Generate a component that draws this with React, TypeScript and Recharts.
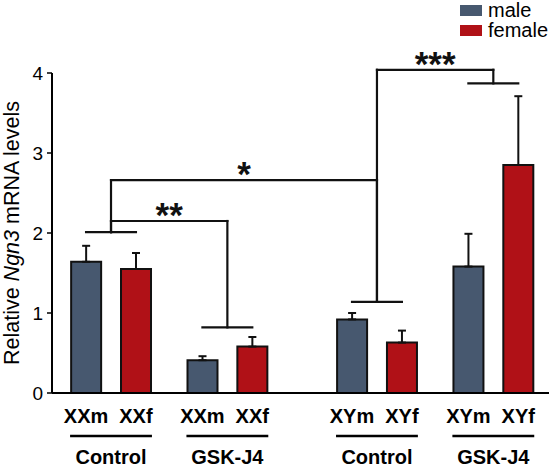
import {
  Bar,
  BarChart,
  Cell,
  ErrorBar,
  Legend,
  ReferenceLine,
  XAxis,
  YAxis,
} from "recharts";

const FONT = "'Liberation Sans', Arial, sans-serif";
const MALE = "#47586f";
const FEMALE = "#b01117";

// bar categories, left to right
const categories = ["XXm", "XXf", "XXm", "XXf", "XYm", "XYf", "XYm", "XYf"];
const sexes = ["male", "female", "male", "female", "male", "female", "male", "female"];
const groups = ["Control", "GSK-J4", "Control", "GSK-J4"];
const means = [1.64, 1.55, 0.41, 0.58, 0.92, 0.63, 1.58, 2.85];
const sems = [0.2, 0.2, 0.05, 0.12, 0.08, 0.15, 0.41, 0.86];
const yTicks = [0, 1, 2, 3, 4];

// spacing between neighbouring bars, in slot units
const slotGaps = [3, 4, 3, 6, 3, 4, 3];

// height of the short line joining each male/female pair
const pairTops = [2.01, 0.82, 1.14, 3.87];
// significance brackets between pairs
const comparisons = [
  { a: 0, b: 1, y: 2.15, stars: "**" },
  { a: 0, b: 2, y: 2.66, stars: "*" },
  { a: 2, b: 3, y: 4.04, stars: "***" },
];

const positions = slotGaps.reduce((acc, g) => [...acc, acc[acc.length - 1] + g], [0]);

const data = categories.map((c, i) => ({
  pos: positions[i],
  label: c,
  sex: sexes[i],
  mean: means[i],
  err: [0, sems[i]],
}));

const pairMid = (k: number) => (positions[2 * k] + positions[2 * k + 1]) / 2;

type Seg = [[number, number], [number, number]];
const segments: Seg[] = [];
pairTops.forEach((top, k) => {
  segments.push([[positions[2 * k], top], [positions[2 * k + 1], top]]);
});
comparisons.forEach((c) => {
  segments.push([[pairMid(c.a), pairTops[c.a]], [pairMid(c.a), c.y]]);
  segments.push([[pairMid(c.b), pairTops[c.b]], [pairMid(c.b), c.y]]);
});

const CHART_W = 550;
const CHART_H = 469;
const Y_AXIS_W = 52;
const X_DOMAIN: [number, number] = [-2.05, 27.85];
const PLOT_W = CHART_W - Y_AXIS_W - 1;
const UNIT_PX = PLOT_W / (X_DOMAIN[1] - X_DOMAIN[0]);
const BAR_SIZE = 30;

function BarTick(props: any) {
  const { x, y, index } = props;
  const label = categories[index];
  const out = [
    <text
      key="t"
      x={x}
      y={y + 22}
      textAnchor="middle"
      fontFamily={FONT}
      fontWeight="bold"
      fontSize={20}
      fill="#000"
    >
      {label}
    </text>,
  ];
  if (index % 2 === 0) {
    const span = (positions[index + 1] - positions[index]) * UNIT_PX;
    const half = BAR_SIZE / 2 + 1;
    out.push(
      <line
        key="l"
        x1={x - half}
        x2={x + span + half}
        y1={y + 35}
        y2={y + 35}
        stroke="#000"
        strokeWidth={2.5}
      />,
      <text
        key="g"
        x={x + span / 2}
        y={y + 63}
        textAnchor="middle"
        fontFamily={FONT}
        fontWeight="bold"
        fontSize={20}
        fill="#000"
      >
        {groups[index / 2]}
      </text>
    );
  }
  return <g>{out}</g>;
}

function YLabel(props: any) {
  const { viewBox } = props;
  const cx = 19;
  const cy = viewBox.y + viewBox.height / 2;
  return (
    <text
      x={cx}
      y={cy}
      transform={`rotate(-90 ${cx} ${cy})`}
      textAnchor="middle"
      fontFamily={FONT}
      fontSize={21.5}
      fill="#000"
    >
      {"Relative "}
      <tspan fontStyle="italic">Ngn3</tspan>
      {" mRNA levels"}
    </text>
  );
}

function starLabel(stars: string) {
  return (p: any) => {
    const vb = p.viewBox;
    return (
      <text
        x={vb.x + vb.width / 2}
        y={vb.y + 6}
        textAnchor="middle"
        fontFamily={FONT}
        fontWeight="bold"
        fontSize={35}
        fill="#111"
      >
        {stars}
      </text>
    );
  };
}

function LegendBox() {
  const items = [
    { name: "male", color: MALE },
    { name: "female", color: FEMALE },
  ];
  return (
    <div style={{ fontFamily: FONT, fontSize: 20, lineHeight: "20px" }}>
      {items.map((it) => (
        <div key={it.name} style={{ display: "flex", alignItems: "center", height: 20 }}>
          <span
            style={{
              display: "inline-block",
              width: 22,
              height: 11,
              background: it.color,
              marginRight: 6,
            }}
          />
          <span>{it.name}</span>
        </div>
      ))}
    </div>
  );
}

export default function App() {
  return (
    <div style={{ position: "absolute", left: 0, top: 0, width: CHART_W, height: CHART_H, background: "#fff" }}>
      <BarChart
        width={CHART_W}
        height={CHART_H}
        data={data}
        margin={{ top: 73, right: 1, bottom: 0, left: 0 }}
      >
        <XAxis
          dataKey="pos"
          type="number"
          domain={X_DOMAIN}
          ticks={positions}
          interval={0}
          allowDataOverflow
          height={76}
          tickLine={false}
          axisLine={{ stroke: "#000", strokeWidth: 2 }}
          tick={<BarTick />}
        />
        <YAxis
          domain={[0, 4]}
          ticks={yTicks}
          width={Y_AXIS_W}
          tickSize={5}
          tickMargin={4}
          axisLine={{ stroke: "#000", strokeWidth: 2 }}
          tickLine={{ stroke: "#000", strokeWidth: 1.5 }}
          tick={{ fill: "#000", fontSize: 19, fontFamily: FONT }}
          label={<YLabel />}
        />
        <Legend
          layout="horizontal"
          verticalAlign="middle"
          align="center"
          wrapperStyle={{ position: "absolute", top: 0, left: 460, width: 90 }}
          content={<LegendBox />}
        />
        <Bar
          dataKey="mean"
          barSize={BAR_SIZE}
          stroke="#111"
          strokeWidth={2}
          isAnimationActive={false}
        >
          {data.map((d, i) => (
            <Cell key={i} fill={d.sex === "male" ? MALE : FEMALE} />
          ))}
          <ErrorBar dataKey="err" width={4} stroke="#111" strokeWidth={2} direction="y" />
        </Bar>
        {segments.map((s, i) => (
          <ReferenceLine
            key={`s${i}`}
            segment={[{ x: s[0][0], y: s[0][1] }, { x: s[1][0], y: s[1][1] }]}
            stroke="#111"
            strokeWidth={2.2}
            strokeLinecap="square"
            ifOverflow="visible"
          />
        ))}
        {comparisons.map((c, i) => (
          <ReferenceLine
            key={`c${i}`}
            segment={[{ x: pairMid(c.a), y: c.y }, { x: pairMid(c.b), y: c.y }]}
            stroke="#111"
            strokeWidth={2.2}
            strokeLinecap="square"
            ifOverflow="visible"
            label={starLabel(c.stars)}
          />
        ))}
      </BarChart>
    </div>
  );
}
